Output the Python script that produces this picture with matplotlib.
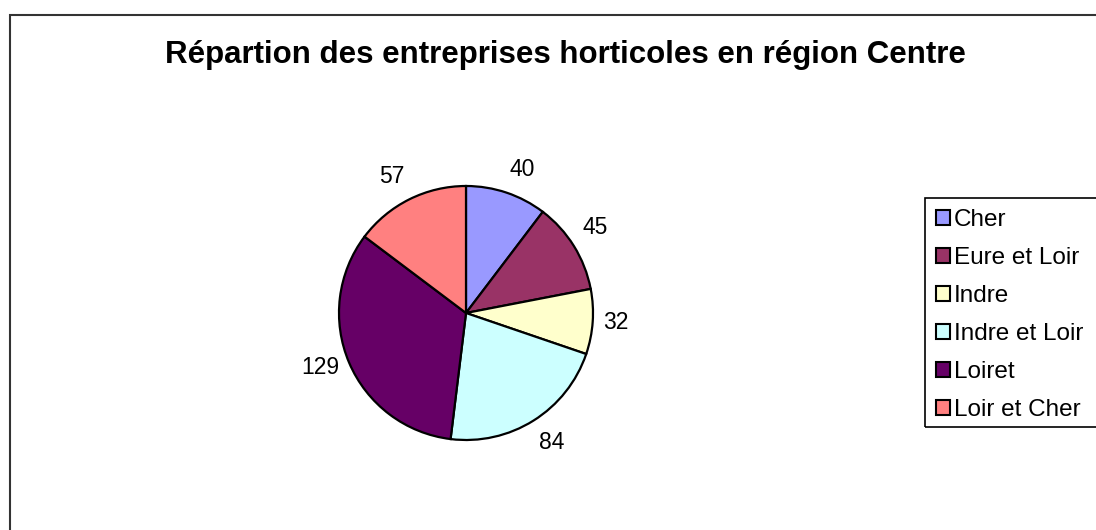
import numpy as np
import matplotlib.pyplot as plt
from matplotlib.patches import Patch, Rectangle

plt.rcParams['font.family'] = ['Liberation Sans', 'DejaVu Sans']

# donnees
departements = ['Cher', 'Eure et Loir', 'Indre', 'Indre et Loir', 'Loiret', 'Loir et Cher']
entreprises = [40, 45, 32, 84, 129, 57]
couleurs = ['#9999FF', '#993366', '#FFFFCC', '#CCFFFF', '#660066', '#FF8080']

W, H = 1096, 530
fig = plt.figure(figsize=(W / 100, H / 100), dpi=100)

# cadre du graphique (coupe a droite et en bas)
fig.patches.append(Rectangle((9.5 / W, -0.1), 1.2, 1 - 14.5 / H + 0.1,
                             transform=fig.transFigure, fill=False,
                             edgecolor='#333333', linewidth=1.5))

fig.text(565 / W, 1 - 55 / H, 'Répartion des entreprises horticoles en région Centre',
         ha='center', va='center', fontsize=22.5, fontweight='bold')

# camembert
cx, cy, r = 466, 313, 127
ax = fig.add_axes([(cx - r) / W, (H - cy - r) / H, 2 * r / W, 2 * r / H])
wedges, _ = ax.pie(entreprises, colors=couleurs, startangle=90, counterclock=False,
                   wedgeprops=dict(edgecolor='black', linewidth=1.6))

# etiquettes a l'exterieur, coin le plus proche colle au camembert
for w, v in zip(wedges, entreprises):
    th = np.deg2rad((w.theta1 + w.theta2) / 2)
    c, s = np.cos(th), np.sin(th)
    ha = 'left' if c > 0.3 else ('right' if c < -0.3 else 'center')
    va = 'bottom' if s > 0.5 else ('top' if s < -0.5 else 'center')
    ax.text(1.08 * c, 1.1 * s, str(v), ha=ha, va=va, fontsize=16.5)

ax.set_xlim(-1, 1)
ax.set_ylim(-1, 1)
ax.set_aspect('equal')
ax.axis('off')

# legende
handles = [Patch(facecolor=c, edgecolor='black', linewidth=1.5) for c in couleurs]
leg = fig.legend(handles, departements, loc='upper left',
                 bbox_to_anchor=(931 / W, 1 - 204 / H), fontsize=17.5,
                 handlelength=0.6, handleheight=0.6, handletextpad=0.15,
                 labelspacing=0.66, borderpad=0.2, borderaxespad=0,
                 frameon=False)
fig.patches.append(Rectangle((925 / W, 1 - 427 / H), 0.2, 229 / H,
                             transform=fig.transFigure, fill=False,
                             edgecolor='black', linewidth=1.2))

plt.savefig('out.png', dpi=100)
